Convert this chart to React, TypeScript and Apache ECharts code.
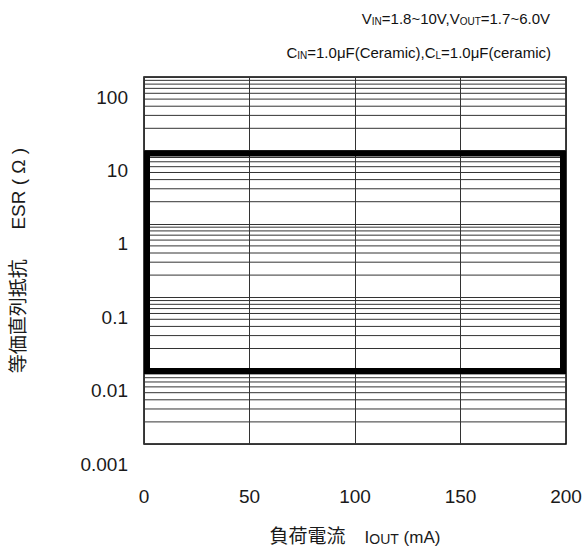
import React, { useEffect, useRef } from "react";
import * as echarts from "echarts";

const xTicks = [0, 50, 100, 150, 200];
const yDecades = [0.001, 0.01, 0.1, 1, 10, 100];
const yTickLabels = ["0.001", "0.01", "0.1", "1", "10", "100"];
const minorMultipliers = [2, 3, 4, 5, 6, 7, 8, 9];
// stable region: I_OUT 0..200 mA, ESR ~0.009..10 Ω
const stableRegion = [[0, 10, 200, 0.009]];

const FONT = "'Liberation Sans', Arial, 'Noto Sans CJK JP', sans-serif";

export default function App() {
  const ref = useRef<HTMLDivElement>(null);
  useEffect(() => {
    if (!ref.current) return;
    const chart = echarts.init(ref.current, undefined, { renderer: "svg" });
    const minorValues: number[][] = [];
    for (let i = 0; i < yDecades.length - 1; i++) {
      for (const m of minorMultipliers) minorValues.push([+(yDecades[i] * m).toPrecision(3)]);
    }
    const richTitle = {
      n: { fontSize: 15, color: "#111", fontFamily: FONT, fontWeight: "normal", lineHeight: 20, verticalAlign: "bottom" },
      s: { fontSize: 10, color: "#111", fontFamily: FONT, fontWeight: "normal", lineHeight: 18, verticalAlign: "bottom" },
    };
    const option: any = {
      animation: false,
      backgroundColor: "#fff",
      textStyle: { fontFamily: FONT },
      title: [
        {
          text: "{n|V}{s|IN}{n|=1.8~10V,V}{s|OUT}{n|=1.7~6.0V}",
          right: 31,
          top: 1,
          textStyle: { fontWeight: "normal", rich: richTitle },
        },
        {
          text: "{n|C}{s|IN}{n|=1.0μF(Ceramic),C}{s|L}{n|=1.0μF(ceramic)}",
          right: 30,
          top: 35,
          textStyle: { fontWeight: "normal", rich: richTitle },
        },
      ],
      grid: {
        left: 144,
        right: 20,
        top: 77,
        bottom: 102,
        show: true,
        borderColor: "#000",
        borderWidth: 1.5,
        backgroundColor: "transparent",
        containLabel: false,
        outerBoundsMode: "none",
      },
      xAxis: {
        type: "value",
        min: 0,
        max: 200,
        interval: 50,
        axisLine: { show: false },
        axisTick: { show: false },
        splitLine: { show: true, lineStyle: { color: "#333", width: 1 } },
        axisLabel: {
          margin: 43,
          fontSize: 19,
          color: "#1a1a1a",
          fontFamily: FONT,
          formatter: (v: number) => (xTicks.includes(v) ? String(v) : ""),
        },
        name: "{k|負荷電流　}{n|I}{s|OUT}{n| (mA)}",
        nameLocation: "middle",
        nameGap: 80,
        nameTextStyle: {
          rich: {
            k: { fontSize: 19, color: "#1a1a1a", fontFamily: FONT, verticalAlign: "bottom", lineHeight: 22 },
            n: { fontSize: 17, color: "#1a1a1a", fontFamily: FONT, verticalAlign: "bottom", lineHeight: 22 },
            s: { fontSize: 14, color: "#1a1a1a", fontFamily: FONT, verticalAlign: "bottom", lineHeight: 21 },
          },
        },
      },
      yAxis: {
        type: "log",
        logBase: 10,
        min: 0.001,
        max: 100,
        splitNumber: 5,
        axisLine: { show: false },
        axisTick: { show: false },
        splitLine: { show: true, lineStyle: { color: "#333", width: 1 } },
        minorTick: { show: false },
        axisLabel: {
          margin: 16,
          fontSize: 19,
          color: "#1a1a1a",
          fontFamily: FONT,
          verticalAlign: "top",
          lineHeight: 40,
          formatter: (v: number) => {
            const idx = yDecades.findIndex((d) => Math.abs(Math.log10(d) - Math.log10(v)) < 1e-6);
            return idx >= 0 ? yTickLabels[idx] : "";
          },
        },
        name: "等価直列抵抗　  ESR ( Ω )",
        nameLocation: "middle",
        nameGap: 116,
        nameRotate: 90,
        nameTextStyle: { fontSize: 19, color: "#1a1a1a", fontFamily: FONT },
      },
      series: [
        {
          type: "custom",
          name: "minor",
          silent: true,
          z: 2,
          data: minorValues,
          encode: { y: 0 },
          renderItem: (params: any, api: any) => {
            const v = api.value(0);
            const a = api.coord([0, v]);
            const b = api.coord([200, v]);
            return {
              type: "line",
              shape: { x1: a[0], y1: a[1], x2: b[0], y2: b[1] },
              style: { stroke: "#333", lineWidth: 1 },
            };
          },
        },
        {
          type: "custom",
          name: "stable",
          silent: true,
          z: 5,
          data: stableRegion,
          encode: { x: [0, 2], y: [1, 3] },
          renderItem: (params: any, api: any) => {
            const a = api.coord([api.value(0), api.value(1)]);
            const b = api.coord([api.value(2), api.value(3)]);
            const w = 6;
            return {
              type: "rect",
              shape: {
                x: a[0] + w / 2,
                y: a[1] + w / 2,
                width: b[0] - a[0] - w,
                height: b[1] - a[1] - w,
              },
              style: { fill: "none", stroke: "#000", lineWidth: w },
            };
          },
        },
      ],
    };
    chart.setOption(option);
    return () => chart.dispose();
  }, []);
  return (
    <div
      ref={ref}
      style={{ position: "absolute", left: 0, top: 0, width: 586, height: 546 }}
    />
  );
}
